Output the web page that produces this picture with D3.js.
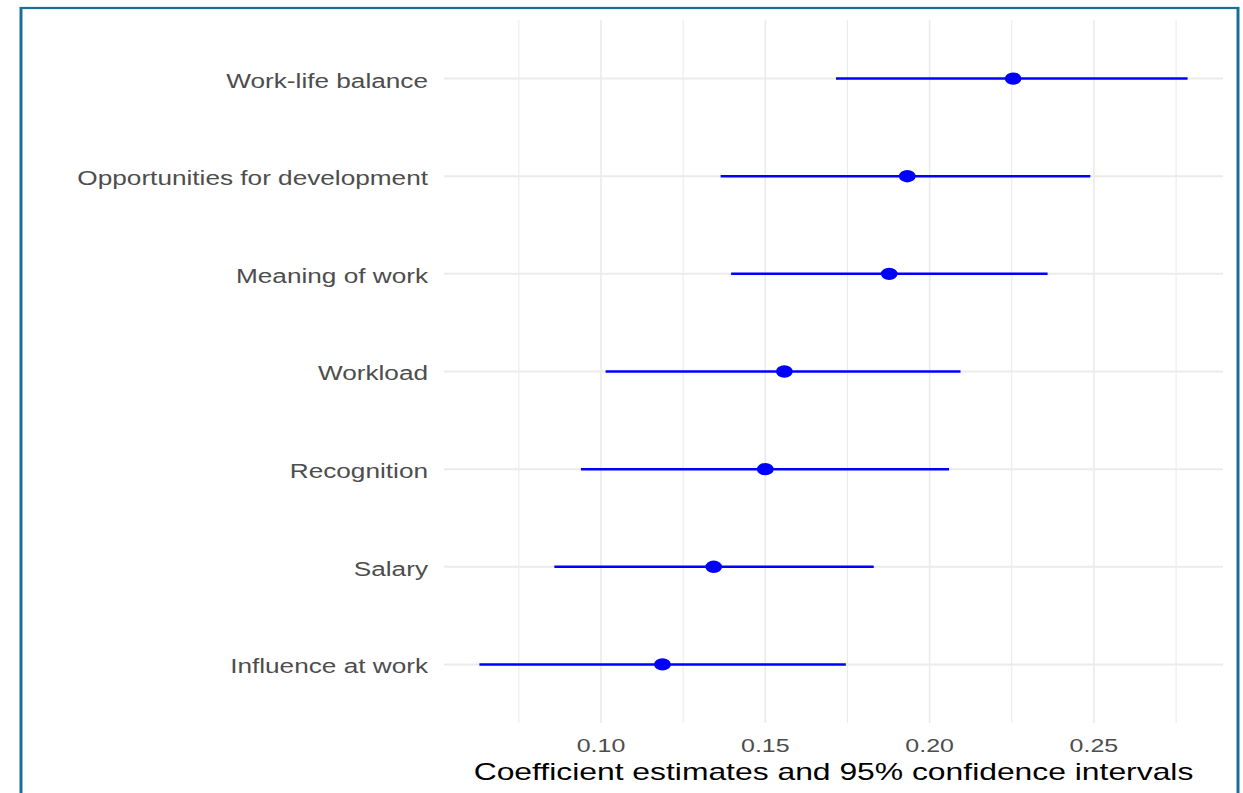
<!DOCTYPE html>
<html>
<head>
<meta charset="utf-8">
<script src="https://cdn.jsdelivr.net/npm/d3@7"></script>
<style>
  html, body { margin: 0; padding: 0; background: #fff; }
  #chart svg { display: block; }
</style>
</head>
<body>
<div id="chart"></div>
<script>
// factors, top to bottom
const factors = [
  "Work-life balance",
  "Opportunities for development",
  "Meaning of work",
  "Workload",
  "Recognition",
  "Salary",
  "Influence at work"
];
const estimates = [0.2254, 0.1932, 0.1877, 0.1558, 0.1500, 0.1343, 0.1187];
const lowerCI   = [0.1715, 0.1364, 0.1396, 0.1014, 0.0939, 0.0858, 0.0630];
const upperCI   = [0.2785, 0.2489, 0.2359, 0.2094, 0.2059, 0.1830, 0.1745];
const majorTicks = [0.10, 0.15, 0.20, 0.25];
const minorTicks = [0.075, 0.125, 0.175, 0.225, 0.275];
const xTitle = "Coefficient estimates and 95% confidence intervals";

// the picture is stretched sideways, so draw in narrower logical units
const W = 1243, H = 793, SX = 1.35;
const LW = W / SX;
const panel = { left: 444 / SX, right: 1223 / SX, top: 20, bottom: 723 };

const rows = factors.map((f, i) => ({ name: f, est: estimates[i], lo: lowerCI[i], hi: upperCI[i] }));

const svg = d3.select("#chart").append("svg")
    .attr("width", W).attr("height", H)
    .attr("viewBox", `0 0 ${LW} ${H}`)
    .attr("preserveAspectRatio", "none")
    .style("font-family", "'Liberation Sans', Arial, sans-serif");

// frame
svg.append("rect")
    .attr("x", 21 / SX).attr("y", 8)
    .attr("width", (1238 - 21) / SX).attr("height", H + 20)
    .attr("fill", "none").attr("stroke", "#1a6e99").attr("stroke-width", 2.2);

// scales, ggplot style 5% expansion
const lo = d3.min(lowerCI), hi = d3.max(upperCI);
const pad = (hi - lo) * 0.05;
const x = d3.scaleLinear().domain([lo - pad, hi + pad]).range([panel.left, panel.right]);
const y = d3.scalePoint().domain(factors).range([panel.top, panel.bottom]).padding(0.6);

// grid
const grid = svg.append("g");
grid.selectAll("line.minor").data(minorTicks).join("line")
    .attr("class", "minor")
    .attr("x1", d => x(d)).attr("x2", d => x(d))
    .attr("y1", panel.top).attr("y2", panel.bottom)
    .attr("stroke", "#ebebeb").attr("stroke-width", 0.8);
grid.selectAll("line.major").data(majorTicks).join("line")
    .attr("class", "major")
    .attr("x1", d => x(d)).attr("x2", d => x(d))
    .attr("y1", panel.top).attr("y2", panel.bottom)
    .attr("stroke", "#ebebeb").attr("stroke-width", 1.2);
grid.selectAll("line.hrow").data(factors).join("line")
    .attr("class", "hrow")
    .attr("x1", panel.left).attr("x2", panel.right)
    .attr("y1", d => y(d)).attr("y2", d => y(d))
    .attr("stroke", "#ebebeb").attr("stroke-width", 2);

// y labels
svg.append("g").selectAll("text").data(factors).join("text")
    .attr("x", 428 / SX)
    .attr("y", d => y(d) + 9)
    .attr("text-anchor", "end")
    .attr("fill", "#4d4d4d")
    .style("font-size", "19.4px")
    .text(d => d);

// x tick labels
svg.append("g").selectAll("text").data(majorTicks).join("text")
    .attr("x", d => x(d))
    .attr("y", 752)
    .attr("text-anchor", "middle")
    .attr("fill", "#4d4d4d")
    .style("font-size", "18.5px")
    .text(d => d3.format(".2f")(d));

// x title
svg.append("text")
    .attr("x", (panel.left + panel.right) / 2)
    .attr("y", 780)
    .attr("text-anchor", "middle")
    .attr("fill", "#000")
    .style("font-size", "23.6px")
    .text(xTitle);

// intervals and points
const marks = svg.append("g");
marks.selectAll("line").data(rows).join("line")
    .attr("x1", d => x(d.lo)).attr("x2", d => x(d.hi))
    .attr("y1", d => y(d.name)).attr("y2", d => y(d.name))
    .attr("stroke", "#0000ff").attr("stroke-width", 2.5);
marks.selectAll("circle").data(rows).join("circle")
    .attr("cx", d => x(d.est)).attr("cy", d => y(d.name))
    .attr("r", 6.2)
    .attr("fill", "#0000ff");
</script>
</body>
</html>
